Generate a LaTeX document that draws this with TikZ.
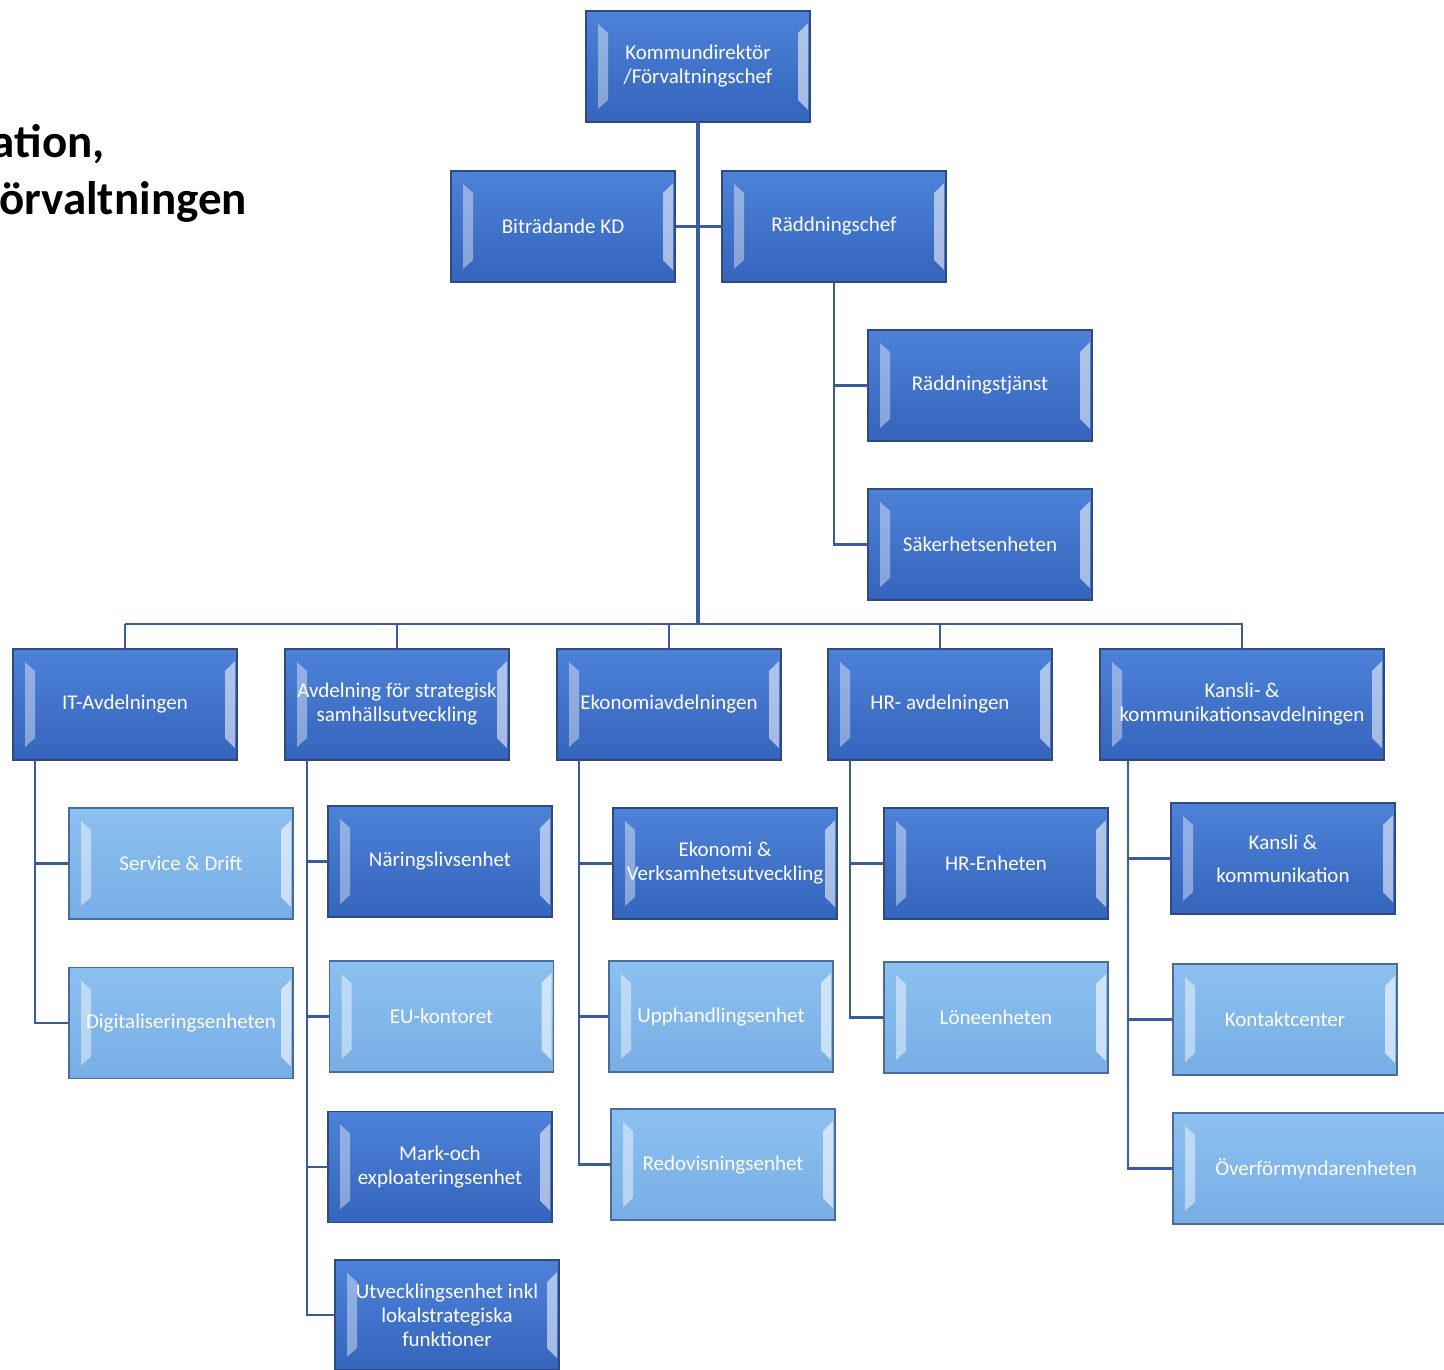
\documentclass[tikz,border=0pt]{standalone}
\usepackage{fontspec}
\setmainfont{Carlito}
\usetikzlibrary{calc}
\definecolor{dktop}{HTML}{4D82D8}
\definecolor{dkbot}{HTML}{3564BC}
\definecolor{dkborder}{HTML}{2E4A7E}
\definecolor{lttop}{HTML}{8CC0F0}
\definecolor{ltbot}{HTML}{78AEE6}
\definecolor{ltborder}{HTML}{4A6C98}
\definecolor{conncol}{HTML}{3B5C9C}
\newcommand\boxbevel[2]{%
  \coordinate (bvnw) at (path picture bounding box.north west);
  \coordinate (bvse) at (path picture bounding box.south east);
  \fill[white,opacity=#1] let \p1=(bvnw), \p2=(bvse) in
    (\x1+12pt,\y1-13pt) -- (\x1+22pt,\y1-22pt) -- (\x1+22pt,\y2+22pt) -- (\x1+12pt,\y2+13pt) -- cycle;
  \fill[white,opacity=#2] let \p1=(bvnw), \p2=(bvse) in
    (\x2-2pt,\y1-12pt) -- (\x2-12pt,\y1-22pt) -- (\x2-12pt,\y2+22pt) -- (\x2-2pt,\y2+12pt) -- cycle;
}
\tikzset{
  unit/.style={minimum width=224pt, minimum height=111pt, inner sep=0pt, outer sep=0pt,
    text=white, font=\fontsize{21}{24}\selectfont, align=center, line width=1.2pt},
  darkbox/.style={unit, draw=dkborder, top color=dktop, bottom color=dkbot,
    path picture={\boxbevel{0.4}{0.55}}},
  lightbox/.style={unit, draw=ltborder, top color=lttop, bottom color=ltbot,
    path picture={\boxbevel{0.45}{0.6}}},
  conn/.style={draw=conncol, line width=2.6pt},
  mainconn/.style={draw=conncol, line width=3.6pt},
  titletext/.style={anchor=base east, inner sep=0pt, font=\bfseries\fontsize{47}{56}\selectfont}
}
\begin{document}
\begin{tikzpicture}[x=1pt,y=-1pt]
\useasboundingbox (0,0) rectangle (1444,1369);
% title fragments
\node[titletext] (t1) at (105,157) {ation,};
\node[titletext] (t2) at (247,214) {örvaltningen};
\coordinate (bus) at (698,624);
\coordinate (busL) at (125,624);
\coordinate (busR) at (1243,624);
% nodes
\node[darkbox] (kd) at (698,66.5) {Kommundirektör\\/Förvaltningschef};
\node[darkbox] (bkd) at (563,226.5) {Biträdande KD};
\node[darkbox] (rc) at (834,226.5) {Räddningschef};
\node[darkbox] (rt) at (980,385.5) {Räddningstjänst};
\node[darkbox] (sak) at (980,544.5) {Säkerhetsenheten};
\node[darkbox] (it) at (125,704.5) {IT-Avdelningen};
\node[darkbox] (avd) at (397,704.5) {Avdelning för strategisk\\samhällsutveckling};
\node[darkbox] (eko) at (669,704.5) {Ekonomiavdelningen};
\node[darkbox] (hr) at (940,704.5) {HR- avdelningen};
\node[darkbox, minimum width=284pt] (kan) at (1242,704.5) {Kansli- \&\\kommunikationsavdelningen};
\node[lightbox] (sd) at (181,863.5) {Service \& Drift};
\node[lightbox] (dig) at (181,1023) {Digitaliseringsenheten};
\node[darkbox] (nar) at (440,861.5) {Näringslivsenhet};
\node[lightbox] (eu) at (441.5,1016.5) {EU-kontoret};
\node[darkbox] (mark) at (440,1167) {Mark-och\\exploateringsenhet};
\node[darkbox, minimum height=110pt] (utv) at (447,1315) {Utvecklingsenhet inkl\\lokalstrategiska\\funktioner};
\node[darkbox] (ekv) at (725,863.5) {Ekonomi \&\\Verksamhetsutveckling};
\node[lightbox] (upp) at (721,1016.5) {Upphandlingsenhet};
\node[lightbox] (red) at (723,1164.5) {Redovisningsenhet};
\node[darkbox] (hre) at (996,863.5) {HR-Enheten};
\node[lightbox] (lon) at (996,1017.5) {Löneenheten};
\node[darkbox] (kk) at (1283,858.5) {Kansli \&\\[9pt]kommunikation};
\node[lightbox] (kc) at (1285,1019.5) {Kontaktcenter};
\node[lightbox, minimum width=286pt] (ovf) at (1316,1168.5) {Överförmyndarenheten};
% connectors
\draw[mainconn] (kd.south) -- (bus);
\draw[conn] (bkd.east) -- (rc.west);
\draw[conn] (rc.south) |- (rt.west);
\draw[conn] (rc.south) |- (sak.west);
\draw[conn] (busL) -- (busR);
\draw[conn] (it.north) -- (it.north |- bus);
\draw[conn] (avd.north) -- (avd.north |- bus);
\draw[conn] (eko.north) -- (eko.north |- bus);
\draw[conn] (hr.north) -- (hr.north |- bus);
\draw[conn] (kan.north) -- (kan.north |- bus);
\coordinate (itv) at ($(it.south west)+(22,0)$);
\draw[conn] (itv) |- (sd.west);
\draw[conn] (itv) |- (dig.west);
\coordinate (avdv) at ($(avd.south west)+(22,0)$);
\draw[conn] (avdv) |- (nar.west);
\draw[conn] (avdv) |- (eu.west);
\draw[conn] (avdv) |- (mark.west);
\draw[conn] (avdv) |- (utv.west);
\coordinate (ekov) at ($(eko.south west)+(22,0)$);
\draw[conn] (ekov) |- (ekv.west);
\draw[conn] (ekov) |- (upp.west);
\draw[conn] (ekov) |- (red.west);
\coordinate (hrv) at ($(hr.south west)+(22,0)$);
\draw[conn] (hrv) |- (hre.west);
\draw[conn] (hrv) |- (lon.west);
\coordinate (kanv) at ($(kan.south west)+(28,0)$);
\draw[conn] (kanv) |- (kk.west);
\draw[conn] (kanv) |- (kc.west);
\draw[conn] (kanv) |- (ovf.west);
\end{tikzpicture}
\end{document}
